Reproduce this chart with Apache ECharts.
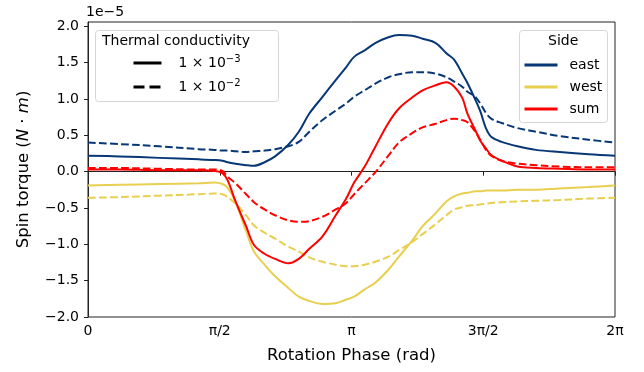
<!DOCTYPE html>
<html>
<head>
<meta charset="utf-8">
<script src="https://cdn.jsdelivr.net/npm/echarts@6/dist/echarts.min.js"></script>
<style>
  html, body { margin: 0; padding: 0; background: #fff; }
  #chart { width: 644px; height: 372px; }
</style>
</head>
<body>
<div id="chart"></div>
<script>
// rotation phase, in units of pi
const phase = [0, 0.12, 0.27, 0.42, 0.48, 0.51, 0.53, 0.56, 0.6, 0.63, 0.67, 0.71, 0.76, 0.8, 0.84, 0.89, 0.94, 0.98, 1.01, 1.05,
  1.09, 1.14, 1.18, 1.23, 1.27, 1.32, 1.36, 1.39, 1.42, 1.44, 1.47, 1.49, 1.51, 1.53, 1.57, 1.63, 1.7, 1.79, 1.9, 2.0]

// spin torque, in units of 1e-5 N*m
const eastLow = [0.22, 0.21, 0.19, 0.17, 0.16, 0.15, 0.13, 0.11, 0.09, 0.08, 0.13, 0.21, 0.37, 0.55, 0.8, 1.03, 1.26, 1.44, 1.58, 1.67,
  1.77, 1.85, 1.88, 1.87, 1.83, 1.77, 1.63, 1.54, 1.35, 1.22, 0.99, 0.82, 0.6, 0.48, 0.41, 0.35, 0.3, 0.27, 0.24, 0.22]
const eastHigh = [0.4, 0.38, 0.35, 0.31, 0.3, 0.29, 0.29, 0.28, 0.27, 0.28, 0.29, 0.31, 0.35, 0.41, 0.55, 0.71, 0.84, 0.94, 1.03, 1.12,
  1.21, 1.3, 1.34, 1.37, 1.37, 1.35, 1.3, 1.24, 1.17, 1.1, 1.03, 0.93, 0.81, 0.73, 0.67, 0.6, 0.55, 0.49, 0.44, 0.4]
const westLow = [-0.19, -0.18, -0.17, -0.16, -0.15, -0.17, -0.22, -0.42, -0.82, -1.1, -1.28, -1.44, -1.6, -1.72, -1.78, -1.82, -1.81, -1.76, -1.72, -1.62,
  -1.53, -1.35, -1.17, -0.95, -0.75, -0.57, -0.41, -0.34, -0.3, -0.29, -0.27, -0.27, -0.26, -0.26, -0.26, -0.25, -0.25, -0.23, -0.21, -0.19]
const westHigh = [-0.36, -0.35, -0.33, -0.31, -0.3, -0.31, -0.35, -0.44, -0.6, -0.74, -0.84, -0.92, -1.03, -1.1, -1.18, -1.24, -1.28, -1.3, -1.3, -1.28,
  -1.24, -1.17, -1.08, -0.97, -0.86, -0.72, -0.6, -0.52, -0.49, -0.47, -0.46, -0.45, -0.44, -0.43, -0.42, -0.41, -0.4, -0.39, -0.37, -0.36]
const sumLow = [0.03, 0.03, 0.02, 0.02, 0.01, -0.02, -0.12, -0.41, -0.75, -1.01, -1.13, -1.2, -1.26, -1.2, -1.06, -0.89, -0.6, -0.37, -0.15, 0.07,
  0.34, 0.67, 0.87, 1.02, 1.12, 1.19, 1.23, 1.17, 1.02, 0.8, 0.57, 0.42, 0.32, 0.23, 0.15, 0.07, 0.05, 0.04, 0.03, 0.03]
const sumHigh = [0.05, 0.05, 0.04, 0.03, 0.03, 0.01, -0.07, -0.16, -0.31, -0.42, -0.52, -0.6, -0.67, -0.69, -0.68, -0.62, -0.52, -0.43, -0.31, -0.16,
  -0.01, 0.22, 0.4, 0.53, 0.61, 0.66, 0.71, 0.73, 0.71, 0.68, 0.55, 0.43, 0.3, 0.22, 0.15, 0.11, 0.09, 0.07, 0.06, 0.06]

const sides = ["east", "west", "sum"]
const conductivityExp = ["−3", "−2"]
const xTickLabels = ["0", "π/2", "π", "3π/2", "2π"]
const yTicks = [-2, -1.5, -1, -0.5, 0, 0.5, 1, 1.5, 2]

const colors = { east: "#083776", west: "#e8cf50", sum: "#ff0000" }
const font = "DejaVu Sans"
const dash = [7.7, 3.3]

const pairs = ys => phase.map((p, i) => [p, ys[i]])

function line(name, color, ys, dashed) {
  return {
    name,
    type: "line",
    data: pairs(ys),
    symbol: "none",
    smooth: 0.35,
    lineStyle: { color, width: 2, type: dashed ? dash : "solid" },
    itemStyle: { color },
  }
}

const condNames = conductivityExp.map(e => "k" + e)
const hiddenDot = { color: "rgba(0,0,0,0)", borderColor: "rgba(0,0,0,0)", borderWidth: 0 }

const chart = echarts.init(document.getElementById("chart"), null, { renderer: "canvas" })

chart.setOption({
  animation: false,
  backgroundColor: "#fff",
  textStyle: { fontFamily: font },
  grid: { left: 88, right: 29, top: 22, bottom: 55, show: true, borderColor: "#222", borderWidth: 1 },
  xAxis: {
    type: "value",
    min: 0,
    max: 2,
    interval: 0.5,
    name: "Rotation Phase (rad)",
    nameLocation: "middle",
    nameGap: 30,
    nameTextStyle: { fontSize: 16.5, color: "#000", fontFamily: font },
    axisLine: { show: true, lineStyle: { color: "#222" } },
    axisTick: { show: true, length: 4, inside: false, lineStyle: { color: "#222" } },
    axisLabel: {
      color: "#000", fontSize: 14, margin: 7, fontFamily: font,
      formatter: v => xTickLabels[Math.round(v / 0.5)],
    },
    splitLine: { show: false },
  },
  yAxis: {
    type: "value",
    min: -2,
    max: 2.06,
    name: "Spin torque ({i|N} · {i|m})",
    nameLocation: "middle",
    nameGap: 56,
    nameRotate: 90,
    nameTextStyle: {
      fontSize: 16.5, color: "#000", fontFamily: font,
      rich: { i: { fontSize: 16.5, fontStyle: "italic", fontFamily: font, color: "#000" } },
    },
    axisLine: { show: true, lineStyle: { color: "#222" } },
    axisTick: { show: true, length: 4, customValues: yTicks, lineStyle: { color: "#222" } },
    axisLabel: {
      color: "#000", fontSize: 14, margin: 9, fontFamily: font, customValues: yTicks,
      formatter: v => v.toFixed(1).replace("-", "−"),
    },
    splitLine: { show: false },
  },
  legend: [
    {
      id: "side",
      data: sides,
      orient: "vertical",
      left: 523,
      top: 58,
      z: 20,
      itemWidth: 33,
      itemHeight: 14,
      itemGap: 8,
      padding: 0,
      selectedMode: false,
      itemStyle: hiddenDot,
      lineStyle: { width: 3, type: "solid" },
      formatter: n => "{n|" + n + "}",
      textStyle: {
        fontSize: 14, color: "#000", fontFamily: font,
        rich: { n: { fontSize: 14, fontFamily: font, color: "#000", padding: [0, 0, 0, 7] } },
      },
    },
    {
      id: "cond",
      data: condNames.map((n, i) => ({ name: n, lineStyle: { width: 3, type: i === 0 ? "solid" : [11, 5] } })),
      orient: "vertical",
      left: 132,
      top: 54,
      z: 20,
      itemWidth: 28,
      itemHeight: 16,
      itemGap: 6,
      padding: 0,
      selectedMode: false,
      itemStyle: hiddenDot,
      lineStyle: { width: 3 },
      formatter: n => "1 × 10{sup|" + n.slice(1) + "}",
      textStyle: {
        fontSize: 14, color: "#000", fontFamily: font, padding: [0, 0, 0, 12], lineHeight: 18,
        rich: { sup: { fontSize: 10, verticalAlign: "top", fontFamily: font, color: "#000", lineHeight: 12 } },
      },
    },
  ],
  graphic: [
    { type: "text", left: 86, top: 5, style: { text: "1e−5", fontSize: 14, fontFamily: font, fill: "#000" } },
    {
      type: "rect", left: 95, top: 30, z: 3,
      shape: { width: 183, height: 71, r: 3 },
      style: { fill: "rgba(255,255,255,0.8)", stroke: "#d6d6d6", lineWidth: 1 },
    },
    { type: "text", left: 102, top: 34, z: 21, style: { text: "Thermal conductivity", fontSize: 14, fontFamily: font, fill: "#000" } },
    {
      type: "rect", left: 519, top: 30, z: 3,
      shape: { width: 88, height: 92, r: 3 },
      style: { fill: "rgba(255,255,255,0.8)", stroke: "#d6d6d6", lineWidth: 1 },
    },
    { type: "text", left: 548, top: 34, z: 21, style: { text: "Side", fontSize: 14, fontFamily: font, fill: "#000" } },
  ],
  series: [
    line("east", colors.east, eastLow, false),
    line("east-hi", colors.east, eastHigh, true),
    line("west", colors.west, westLow, false),
    line("west-hi", colors.west, westHigh, true),
    line("sum", colors.sum, sumLow, false),
    line("sum-hi", colors.sum, sumHigh, true),
    { name: condNames[0], type: "line", data: [], symbol: "none", lineStyle: { color: "#000", width: 2 }, itemStyle: { color: "#000" } },
    { name: condNames[1], type: "line", data: [], symbol: "none", lineStyle: { color: "#000", width: 2, type: [7.3, 3.3] }, itemStyle: { color: "#000" } },
  ],
})

window.addEventListener("resize", () => chart.resize())
</script>
</body>
</html>
